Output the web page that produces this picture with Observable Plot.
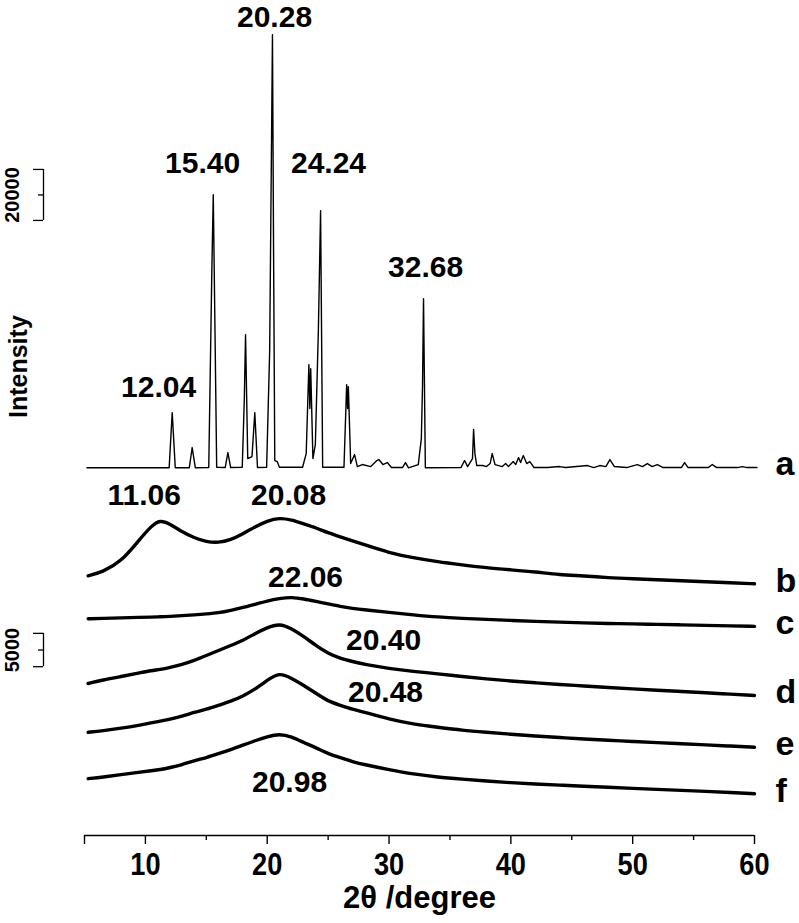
<!DOCTYPE html>
<html><head><meta charset="utf-8">
<script src="https://cdn.jsdelivr.net/npm/d3@7"></script>
<script src="https://cdn.jsdelivr.net/npm/@observablehq/plot@0.6"></script>
<style>html,body{margin:0;padding:0;background:#fff}#chart svg{display:block}</style>
</head><body><div id="chart"></div>
<script>
// ---------- DATA ----------
// Trace a: crystalline pattern, 2θ (degree) and intensity (counts)
const aTheta = [5.2, 11.95, 12.2, 12.45, 13.6, 13.84, 14.1, 15.2, 15.45, 15.57, 15.7, 15.85, 16.55, 16.77, 17.0, 17.95, 18.12, 18.22, 18.4, 18.75, 18.98, 19.2, 19.95, 20.2, 20.43, 20.52, 20.62, 20.82, 21.0, 22.9, 23.2, 23.42, 23.5, 23.57, 23.75, 23.95, 24.2, 24.38, 24.55, 26.3, 26.52, 26.6, 26.66, 26.85, 27.17, 27.4, 27.8, 28.5, 29.0, 29.16, 29.5, 29.85, 30.2, 31.1, 31.35, 31.6, 32.4, 32.65, 32.75, 32.83, 32.98, 35.9, 36.2, 36.45, 36.85, 36.94, 37.05, 37.2, 37.7, 38.0, 38.3, 38.47, 38.7, 39.3, 39.57, 39.8, 40.2, 40.4, 40.63, 40.8, 41.02, 41.3, 41.56, 41.9, 43, 44, 44.5, 46.3, 46.8, 47.3, 47.8, 48.13, 48.5, 49.5, 50.38, 50.8, 51.2, 51.6, 52.02, 52.5, 54.0, 54.26, 54.55, 56.2, 56.54, 56.9, 58.6, 59.0, 59.4, 60.2];
const aCounts = [300, 300, 21950, 300, 300, 8230, 300, 400, 76440, 107410, 58800, 500, 400, 6270, 400, 500, 27440, 52530, 3920, 4700, 21950, 400, 500, 45860, 170130, 85850, 3140, 2740, 500, 500, 5880, 40770, 23520, 39200, 3920, 9410, 54490, 101140, 500, 500, 32930, 23520, 32140, 1960, 5490, 780, 1570, 780, 3140, 3530, 1570, 2350, 390, 390, 2350, 300, 1570, 11760, 32930, 66640, 300, 390, 3140, 780, 3920, 15290, 5880, 1180, 1180, 780, 1960, 5880, 1570, 780, 1960, 780, 2740, 1570, 4310, 2350, 5100, 1960, 2740, 390, 390, 780, 390, 1180, 390, 1180, 780, 3530, 780, 390, 1570, 780, 1960, 780, 1570, 390, 390, 2350, 390, 390, 1570, 390, 390, 780, 390, 390];

// Traces b–f: amorphous patterns on a common 2θ grid (counts)
const amTheta = [5.3, 6.5, 8, 9.5, 10.5, 11.2, 12, 13, 14, 15, 16, 17, 18, 19, 20, 21, 22, 23, 24, 25, 26, 27, 28, 30, 32, 34, 36, 38, 40, 42, 44, 46, 48, 50, 52, 54, 56, 58, 60];
const bCounts = [1200, 1800, 3300, 6600, 8700, 9600, 9000, 7800, 6900, 6300, 6150, 6600, 7500, 8550, 9450, 9900, 9600, 9000, 8400, 7650, 7050, 6450, 5850, 4650, 3900, 3300, 2850, 2400, 2100, 1800, 1350, 1200, 900, 750, 600, 450, 300, 150, 0];
const cCounts = [1150, 1200, 1280, 1350, 1400, 1440, 1500, 1620, 1730, 1880, 2030, 2400, 2850, 3300, 3830, 4200, 4400, 4130, 3750, 3380, 3000, 2700, 2480, 2100, 1730, 1400, 1200, 1050, 900, 750, 650, 530, 440, 380, 300, 230, 150, 80, 0];
const dCounts = [1800, 2330, 2850, 3380, 3750, 3900, 4200, 4650, 5250, 6000, 6750, 7500, 8250, 9300, 10200, 10800, 10050, 8850, 7500, 6300, 5550, 5100, 4650, 4050, 3600, 3260, 2850, 2480, 2180, 1910, 1650, 1430, 1200, 990, 780, 600, 410, 200, 0];
const eCounts = [2250, 2480, 2850, 3300, 3680, 3900, 4200, 4650, 5250, 5700, 6300, 6900, 7650, 8700, 10050, 11250, 10350, 9300, 8100, 6900, 6300, 5700, 5250, 4200, 3450, 3000, 2550, 2250, 1950, 1680, 1460, 1230, 1050, 870, 690, 530, 360, 180, 0];
const fCounts = [2250, 2480, 2850, 3230, 3450, 3600, 3900, 4350, 4950, 5400, 6000, 6600, 7280, 7950, 8550, 9000, 8550, 7650, 6900, 6000, 5400, 4800, 4350, 3600, 2930, 2490, 2180, 1880, 1650, 1440, 1280, 1130, 950, 800, 650, 500, 350, 180, 0];

const traceNames = ["a", "b", "c", "d", "e", "f"];
const peakLabels = ["20.28", "15.40", "24.24", "32.68", "12.04", "11.06", "20.08", "22.06", "20.40", "20.48", "20.98"];
const xTicks = [10, 20, 30, 40, 50, 60];
const xMinorTicks = [15, 25, 35, 45, 55];
const scaleBarValues = [20000, 5000];
const xTitle = "2θ /degree";
const yTitle = "Intensity";

// ---------- LAYOUT ----------
const W = 799, H = 923, ML = 84, MR = 45, MT = 0, MB = 88;
const UNIT = 20000 / 51;                 // display units per pixel (trace a counts)
const Y_MAX = (H - MB - MT) * UNIT;
const GAIN = 20000 / (51 * 150);         // amorphous traces drawn magnified
const offsets = [143900, 98700, 82000, 54900, 34600, 16400]; // vertical stacking
const gains = [1, GAIN, GAIN, GAIN, GAIN, GAIN];
// annotation anchors (2θ, display-y)
const peakLabelPos = [[20.60, 320700], [14.69, 263500], [25.03, 263500], [33.0, 222700], [11.08, 175700], [9.9, 133300], [21.75, 133300], [23.14, 101200], [29.55, 76500], [29.71, 56100], [21.83, 20800]];
const barBase = [241200, 66200];
const BAR_X = 1.634, ARM_X = 0.813, MID_X = 1.223, BAR_TEXT_X = -0.9, NAME_X = 61.73;

const FONT = "'Liberation Sans', Arial, Helvetica, sans-serif";

// ---------- BUILD ----------
const series = [aCounts, bCounts, cCounts, dCounts, eCounts, fCounts];
const lineData = series.map((vals, k) => {
  const th = k === 0 ? aTheta : amTheta;
  return th.map((t, i) => ({x: t, y: offsets[k] + vals[i] * gains[k], k}));
});
const nameData = traceNames.map((n, k) => ({name: n, y: lineData[k][lineData[k].length - 1].y}));
const peakData = peakLabels.map((t, i) => ({text: t, x: peakLabelPos[i][0], y: peakLabelPos[i][1]}));
const bars = scaleBarValues.map((v, i) => ({label: String(v), y1: barBase[i], y2: barBase[i] + v * (i === 0 ? 1 : GAIN)}));

const chart = Plot.plot({
  width: W, height: H, marginLeft: ML, marginRight: MR, marginTop: MT, marginBottom: MB,
  style: {fontFamily: FONT, background: "#fff", color: "#000", overflow: "visible"},
  x: {domain: [5, 60]},
  y: {domain: [0, Y_MAX], axis: null},
  marks: [
    Plot.line(lineData[0], {x: "x", y: "y", stroke: "#000", strokeWidth: 1.4}),
    ...lineData.slice(1).map(d => Plot.line(d, {x: "x", y: "y", stroke: "#000", strokeWidth: 3.4, curve: "basis"})),
    Plot.ruleY([0], {stroke: "#000", strokeWidth: 1.6}),
    Plot.axisX({ticks: [5, ...xTicks], tickSize: 9, tickPadding: 8, tickFormat: d => d === 5 ? "" : String(d), fontSize: 32, fontWeight: "bold", label: null, strokeWidth: 1.4}),
    Plot.axisX({ticks: xMinorTicks, tickSize: 5, tickFormat: () => "", label: null, strokeWidth: 1.4}),
    Plot.text([xTitle], {frameAnchor: "bottom", dy: 72, fontSize: 31, fontWeight: "bold", fill: "#000"}),
    Plot.text([yTitle], {frameAnchor: "left", dx: -66, rotate: -90, fontSize: 25, fontWeight: "bold", fill: "#000"}),
    Plot.ruleX(bars, {x: () => BAR_X, y1: "y1", y2: "y2", stroke: "#000", strokeWidth: 1.3}),
    Plot.ruleY(bars, {y: "y1", x1: () => ARM_X, x2: () => BAR_X, stroke: "#000", strokeWidth: 1.3}),
    Plot.ruleY(bars, {y: "y2", x1: () => ARM_X, x2: () => BAR_X, stroke: "#000", strokeWidth: 1.3}),
    Plot.ruleY(bars, {y: d => (d.y1 + d.y2) / 2, x1: () => MID_X, x2: () => BAR_X, stroke: "#000", strokeWidth: 1.3}),
    Plot.text(bars, {x: () => BAR_TEXT_X, y: d => (d.y1 + d.y2) / 2, text: "label", rotate: -90, fontSize: 20, fontWeight: "bold", fill: "#000", ariaLabel: "scalelabel"}),
    Plot.text(peakData, {x: "x", y: "y", text: "text", fontSize: 30, fontWeight: "bold", fill: "#000"}),
    Plot.text(nameData, {x: () => NAME_X, y: "y", text: "name", textAnchor: "start", dy: -3, fontSize: 34, fontWeight: "bold", fill: "#000"})
  ]
});
document.getElementById("chart").append(chart);

// condense / stretch texts to the reference's proportions
function stretch(sel, f) {
  chart.querySelectorAll(sel).forEach(t => {
    const L = t.getComputedTextLength();
    if (L > 0) { t.setAttribute("textLength", L * f); t.setAttribute("lengthAdjust", "spacingAndGlyphs"); }
  });
}
stretch('g[aria-label="x-axis tick label"] text', 0.85);
stretch('g[aria-label="scalelabel"] text', 1.42);
</script>
</body></html>
